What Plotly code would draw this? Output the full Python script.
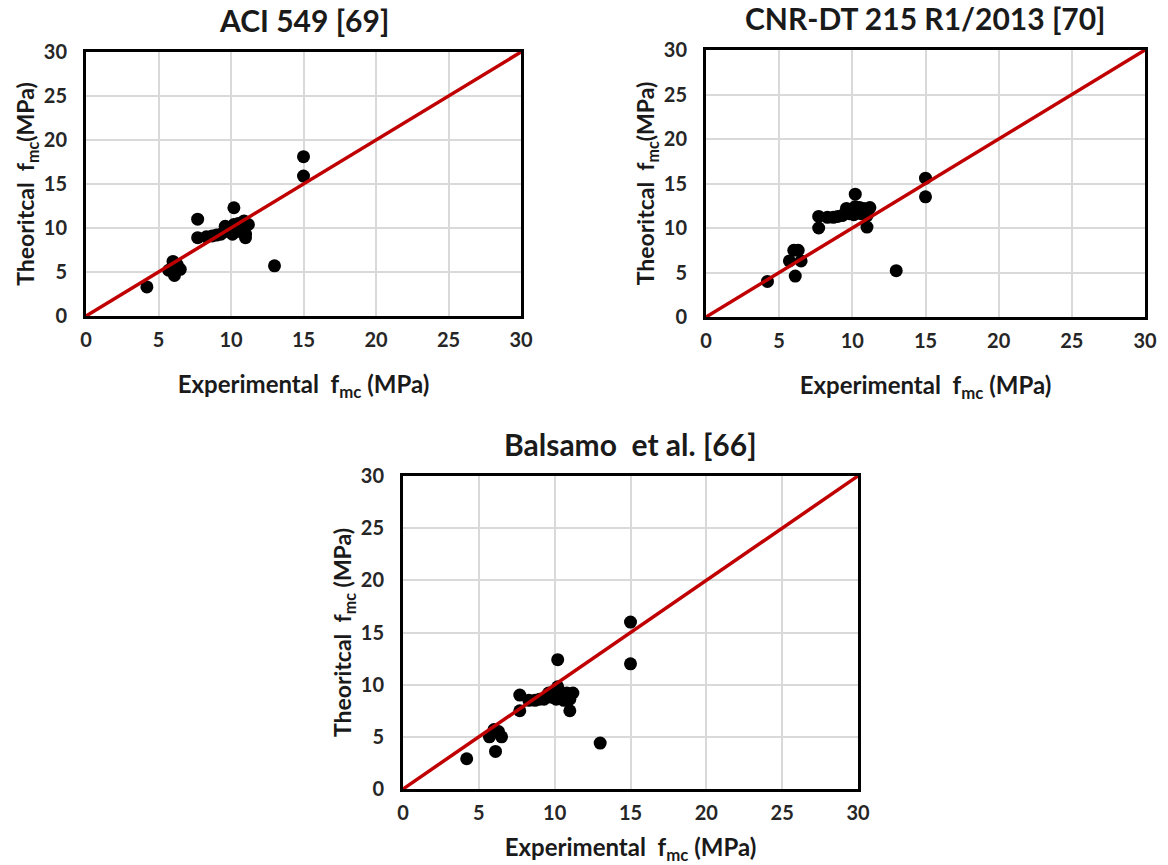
import plotly.graph_objects as go

# ---------------- data ----------------
experimental = [4.2, 5.7, 6.0, 6.1, 6.3, 6.5, 7.7, 7.7, 8.3, 8.7, 9.0, 9.3, 9.6, 9.8,
                10.0, 10.1, 10.2, 10.2, 10.4, 10.5, 10.6, 10.8, 10.9, 11.0, 11.0, 11.2,
                13.0, 15.0, 15.0]

aci_theoretical = [3.3, 5.2, 6.2, 4.6, 5.8, 5.3, 11.0, 8.9, 9.0, 9.1, 9.2, 9.3, 10.2, 9.6,
                   10.0, 9.3, 12.3, 10.4, 9.8, 10.5, 9.6, 10.2, 10.8, 9.3, 8.9, 10.4,
                   5.7, 18.1, 15.9]

cnr_theoretical = [4.0, 6.3, 7.5, 4.6, 7.5, 6.3, 11.3, 10.0, 11.2, 11.2, 11.3, 11.4, 12.2, 11.6,
                   12.0, 11.5, 13.8, 12.4, 11.8, 12.3, 11.6, 12.2, 11.9, 11.4, 10.1, 12.3,
                   5.2, 15.6, 13.5]

balsamo_theoretical = [2.9, 5.0, 5.7, 3.6, 5.5, 5.0, 9.0, 7.5, 8.5, 8.5, 8.6, 8.6, 9.2, 8.8,
                       9.0, 8.6, 12.4, 9.8, 8.8, 9.1, 8.5, 9.2, 8.8, 7.5, 8.6, 9.2,
                       4.4, 16.0, 12.0]

equality_line = [0, 30]
tick_values = [0, 5, 10, 15, 20, 25, 30]

titles = ["ACI 549 [69]", "CNR-DT 215 R1/2013 [70]", "Balsamo  et al. [66]"]
x_titles = ["Experimental  f<sub>mc</sub> (MPa)"] * 3
y_titles = ["Theoritcal  f<sub>mc</sub>(MPa)", "Theoritcal  f<sub>mc</sub>(MPa)",
            "Theoritcal  f<sub>mc</sub> (MPa)"]
series = [aci_theoretical, cnr_theoretical, balsamo_theoretical]

# ---------------- layout ----------------
W, H = 1168, 865
FONT = "Lato, 'Open Sans', sans-serif"
# plot frames in pixels: (left, right, top, bottom)
frames = [(86, 521, 52, 316), (706, 1145, 50, 317), (403, 858, 476, 789)]
x_title_standoff = [27, 27, 21]

fig = go.Figure()
layout = dict(
    width=W, height=H, margin=dict(l=0, r=0, t=0, b=0, autoexpand=False),
    paper_bgcolor="white", plot_bgcolor="white", showlegend=False,
    font=dict(family=FONT, color="#1a1a1a"),
)

annotations = []
for i, (ys, (l, r, t, b)) in enumerate(zip(series, frames)):
    n = "" if i == 0 else str(i + 1)
    xa, ya = "x" + n, "y" + n
    fig.add_trace(go.Scatter(x=experimental, y=ys, mode="markers",
                             marker=dict(color="black", size=13),
                             xaxis=xa, yaxis=ya, hoverinfo="skip"))
    fig.add_trace(go.Scatter(x=equality_line, y=equality_line, mode="lines",
                             line=dict(color="#c00000", width=3.5),
                             xaxis=xa, yaxis=ya, hoverinfo="skip", cliponaxis=False))
    axis_common = dict(
        range=[0, 30], tickvals=tick_values, showgrid=True, automargin=False,
        gridcolor="#d9d9d9", gridwidth=1.5, zeroline=False,
        showline=True, linecolor="black", linewidth=3, mirror=True,
        ticks="", tickfont=dict(family=FONT, size=20, color="#262626", weight="bold"),
    )
    layout["xaxis" + n] = dict(
        axis_common, domain=[l / W, r / W], anchor=ya, ticklabelstandoff=4,
        title=dict(text="<b>" + x_titles[i] + "</b>", standoff=x_title_standoff[i],
                   font=dict(family=FONT, size=24, color="#1a1a1a")),
    )
    layout["yaxis" + n] = dict(
        axis_common, domain=[1 - b / H, 1 - t / H], anchor=xa, ticklabelstandoff=12,
        title=dict(text="<b>" + y_titles[i] + "</b>", standoff=3,
                   font=dict(family=FONT, size=23, color="#1a1a1a")),
    )
    annotations.append(dict(
        text="<b>" + titles[i] + "</b>", xref="paper", yref="paper",
        x=(l + r) / 2 / W, y=1 - (t - 12) / H, xanchor="center", yanchor="bottom",
        showarrow=False, font=dict(family=FONT, size=30, color="#1a1a1a"),
    ))

layout["annotations"] = annotations
fig.update_layout(**layout)
fig.write_html("out.html", config={"displayModeBar": False},
               post_script="document.body.style.margin='0';document.body.style.overflow='hidden';")
